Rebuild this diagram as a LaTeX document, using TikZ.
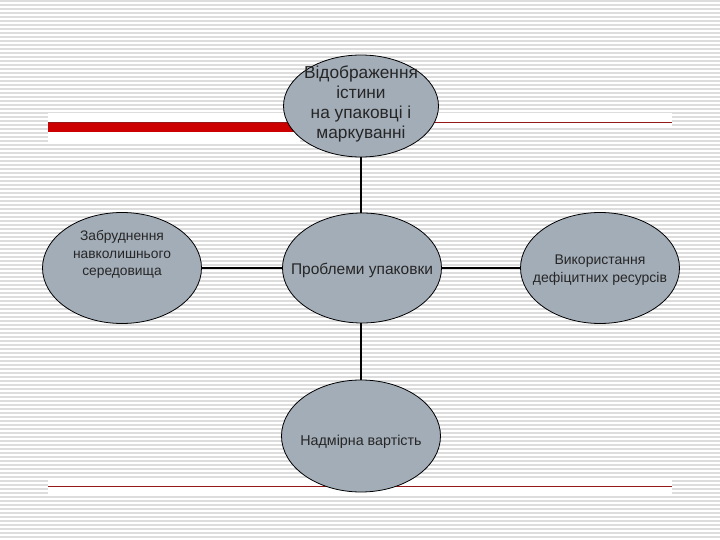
\documentclass[tikz,border=0pt]{standalone}
\usepackage{fontspec}
\setmainfont{Liberation Sans}
\usetikzlibrary{shapes.geometric}

\definecolor{bubblegray}{RGB}{163,173,184}
\definecolor{slidered}{RGB}{204,0,0}
\definecolor{rulered}{RGB}{150,25,25}
\definecolor{stripegray}{RGB}{221,221,221}

\tikzset{
  bubble/.style={ellipse,draw=black,line width=0.8pt,fill=bubblegray,
    inner sep=0pt,minimum width=159pt,minimum height=111pt},
  bubbletext/.style={align=center,inner sep=0pt,text=black!85},
  link/.style={line width=2pt,black}
}

% striped slide background with the red rules
\newcommand{\slideback}{
  \fill[white] (0,0) rectangle (720,540);
  \foreach \y in {1,5,...,539}
    \draw[stripegray,line width=1.1pt] (0,\y) -- (720,\y);

  \fill[white] (48,113) rectangle (672,128);
  \fill[white] (48,113) rectangle (300,143);
  \fill[white] (48,480) rectangle (672,494);

  \draw[rulered,line width=1pt] (48,123) -- (672,123);
  \fill[slidered] (48,123) rectangle (300,132);
  \draw[rulered,line width=1pt] (48,486) -- (672,486);
}

\begin{document}
\begin{tikzpicture}[x=1pt,y=-1pt]
    \useasboundingbox (0,0) rectangle (720,540);
    \slideback

    \coordinate (c0) at (361,106);
    \coordinate (c1) at (362,268);
    \coordinate (c2) at (122,268);
    \coordinate (c3) at (600,268);
    \coordinate (c4) at (361,436);

    \draw[link] (c0) -- (c4);
    \draw[link] (c2) -- (c3);

    \node [bubble,minimum width=155pt,minimum height=102pt,
    label={[bubbletext,name=truthtext,yshift=2pt,
      font=\fontsize{17.3}{20.3}\selectfont]center:Відображення\\істини\\на упаковці і\\маркуванні}]
    (truth) at (c0) {};

    \node [bubble,minimum height=110pt,
    label={[bubbletext,name=problemstext,yshift=-2pt,
      font=\fontsize{15.5}{17}\selectfont]center:Проблеми упаковки}]
    (problems) at (c1) {};

    \node [bubble,
    label={[bubbletext,name=pollutiontext,yshift=13.5pt,
      font=\fontsize{13.8}{17.5}\selectfont]center:Забруднення\\навколишнього\\середовища}]
    (pollution) at (c2) {};

    \node [bubble,
    label={[bubbletext,name=resourcestext,yshift=-2pt,
      font=\fontsize{14}{18.5}\selectfont]center:Використання\\дефіцитних ресурсів}]
    (resources) at (c3) {};

    \node [bubble,minimum height=112pt,
    label={[bubbletext,name=costtext,yshift=-6pt,
      font=\fontsize{14.3}{17}\selectfont]center:Надмірна вартість}]
    (cost) at (c4) {};
\end{tikzpicture}
\end{document}
